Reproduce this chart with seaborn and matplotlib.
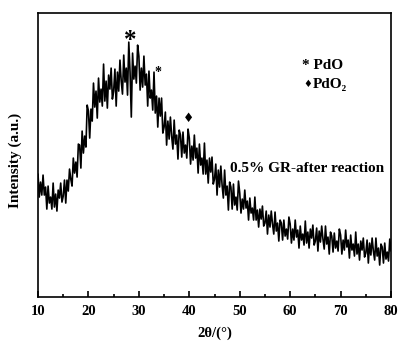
import matplotlib
matplotlib.use("Agg")
import matplotlib.pyplot as plt
import pandas as pd
import seaborn as sns
from matplotlib.ticker import MultipleLocator

# 2-theta sampled every 0.25 degree from 10 to 80
two_theta = [10 + 0.25 * i for i in range(281)]

intensity = [
    123, 100, 115, 102,   # 10
    122, 102, 110, 88,    # 11
    111, 94, 100, 88,     # 12
    114, 90, 103, 86,     # 13
    107, 99, 114, 95,     # 14
    101, 117, 94, 117,    # 15
    106, 128, 118, 111,   # 16
    139, 124, 135, 120,   # 17
    153, 152, 129, 166,   # 18
    144, 161, 150, 192,   # 19
    186, 159, 188, 176,   # 20
    214, 190, 206, 179,   # 21
    219, 195, 208, 191,   # 22
    233, 196, 216, 189,   # 23
    222, 208, 229, 198,   # 24
    206, 228, 191, 225,   # 25
    206, 237, 216, 203,   # 26
    242, 215, 229, 202,   # 27
    255, 225, 180, 244,   # 28
    218, 231, 214, 252,   # 29
    241, 207, 229, 210,   # 30
    241, 212, 223, 191,   # 31
    226, 199, 207, 187,   # 32
    225, 184, 201, 170,   # 33
    199, 181, 199, 164,   # 34
    170, 185, 152, 176,   # 35
    158, 180, 161, 148,   # 36
    177, 153, 162, 138,   # 37
    167, 162, 140, 165,   # 38
    144, 152, 139, 168,   # 39
    159, 133, 151, 137,   # 40
    162, 139, 149, 124,   # 41
    153, 132, 139, 123,   # 42
    154, 123, 137, 114,   # 43
    139, 125, 140, 113,   # 44
    118, 133, 102, 127,   # 45
    110, 131, 112, 99,    # 46
    127, 102, 111, 87,    # 47
    115, 110, 88, 113,    # 48
    92, 100, 87, 116,     # 49
    104, 84, 98, 88,      # 50
    107, 89, 96, 77,      # 51
    99, 84, 89, 77,       # 52
    100, 77, 87, 70,      # 53
    88, 78, 91, 71,       # 54
    74, 86, 63, 82,       # 55
    70, 86, 73, 63,       # 56
    85, 66, 74, 56,       # 57
    77, 74, 57, 77,       # 58
    61, 68, 58, 80,       # 59
    73, 54, 68, 57,       # 60
    77, 60, 67, 49,       # 61
    71, 57, 63, 52,       # 62
    76, 54, 65, 49,       # 63
    68, 59, 72, 52,       # 64
    56, 69, 46, 66,       # 65
    55, 71, 58, 48,       # 66
    71, 53, 60, 43,       # 67
    65, 61, 45, 64,       # 68
    49, 56, 46, 68,       # 69
    62, 43, 57, 47,       # 70
    67, 50, 57, 39,       # 71
    62, 47, 53, 41,       # 72
    65, 43, 53, 37,       # 73
    56, 47, 59, 40,       # 74
    44, 57, 34, 54,       # 75
    42, 59, 46, 37,       # 76
    59, 41, 49, 32,       # 77
    53, 50, 34, 54,       # 78
    38, 45, 36, 58,       # 79
    46,                   # 80
]

x_ticks = [10, 20, 30, 40, 50, 60, 70, 80]
x_label = "2θ/(°)"
y_label = "Intensity (a.u.)"
sample_label = "0.5% GR-after reaction"

df = pd.DataFrame({"two_theta": two_theta, "intensity": intensity})

sns.set_style("ticks")
plt.rcParams["font.family"] = ["Liberation Serif", "DejaVu Serif"]
plt.rcParams["font.weight"] = "bold"
plt.rcParams["text.color"] = "black"
plt.rcParams["axes.labelcolor"] = "black"
plt.rcParams["xtick.color"] = "black"
plt.rcParams["axes.edgecolor"] = "black"

fig = plt.figure(figsize=(3.98, 3.45), dpi=100)
ax = fig.add_axes([0.0955, 0.139, 0.887, 0.823])

sns.lineplot(data=df, x="two_theta", y="intensity", ax=ax, color="black",
             linewidth=1.2, estimator=None, sort=False)

ax.set_xlim(10, 80)
ax.set_ylim(0, 284)
ax.set_xticks(x_ticks)
ax.xaxis.set_minor_locator(MultipleLocator(5))
ax.set_yticks([])
ax.tick_params(axis="x", which="major", direction="in", length=4, width=1.2,
               labelsize=10.5, pad=6, colors="black")
ax.tick_params(axis="x", which="minor", direction="in", length=2.5, width=1.2,
               colors="black")
for lab in ax.get_xticklabels():
    lab.set_fontweight("bold")
for sp in ax.spines.values():
    sp.set_linewidth(1.2)
    sp.set_edgecolor("black")
    sp.set_visible(True)

ax.set_xlabel(x_label, fontsize=10.5, fontweight="bold", labelpad=6)
ax.set_ylabel(y_label, fontsize=11, fontweight="bold")
ax.yaxis.set_label_coords(-0.045, 0.48)

fam = ["Liberation Serif", "DejaVu Serif", "DejaVu Sans"]
ax.text(28.2, 257, "*", fontsize=18, fontweight="bold", ha="center", va="center", family=fam)
ax.text(33.8, 225, "*", fontsize=10, fontweight="bold", ha="center", va="center", family=fam)
ax.text(39.8, 179, "♦", fontsize=9, ha="center", va="center", family=["DejaVu Sans"])
ax.text(62.4, 232, "* PdO", fontsize=11, fontweight="bold", ha="left", va="center", family=fam)
ax.text(62.7, 213, "♦", fontsize=7, ha="left", va="center", family=["DejaVu Sans"])
ax.text(64.5, 213, "PdO₂", fontsize=11, fontweight="bold", ha="left", va="center", family=fam)
ax.text(48.0, 129, sample_label, fontsize=11, fontweight="bold", ha="left", va="center", family=fam)

fig.savefig("out.png", dpi=100)
